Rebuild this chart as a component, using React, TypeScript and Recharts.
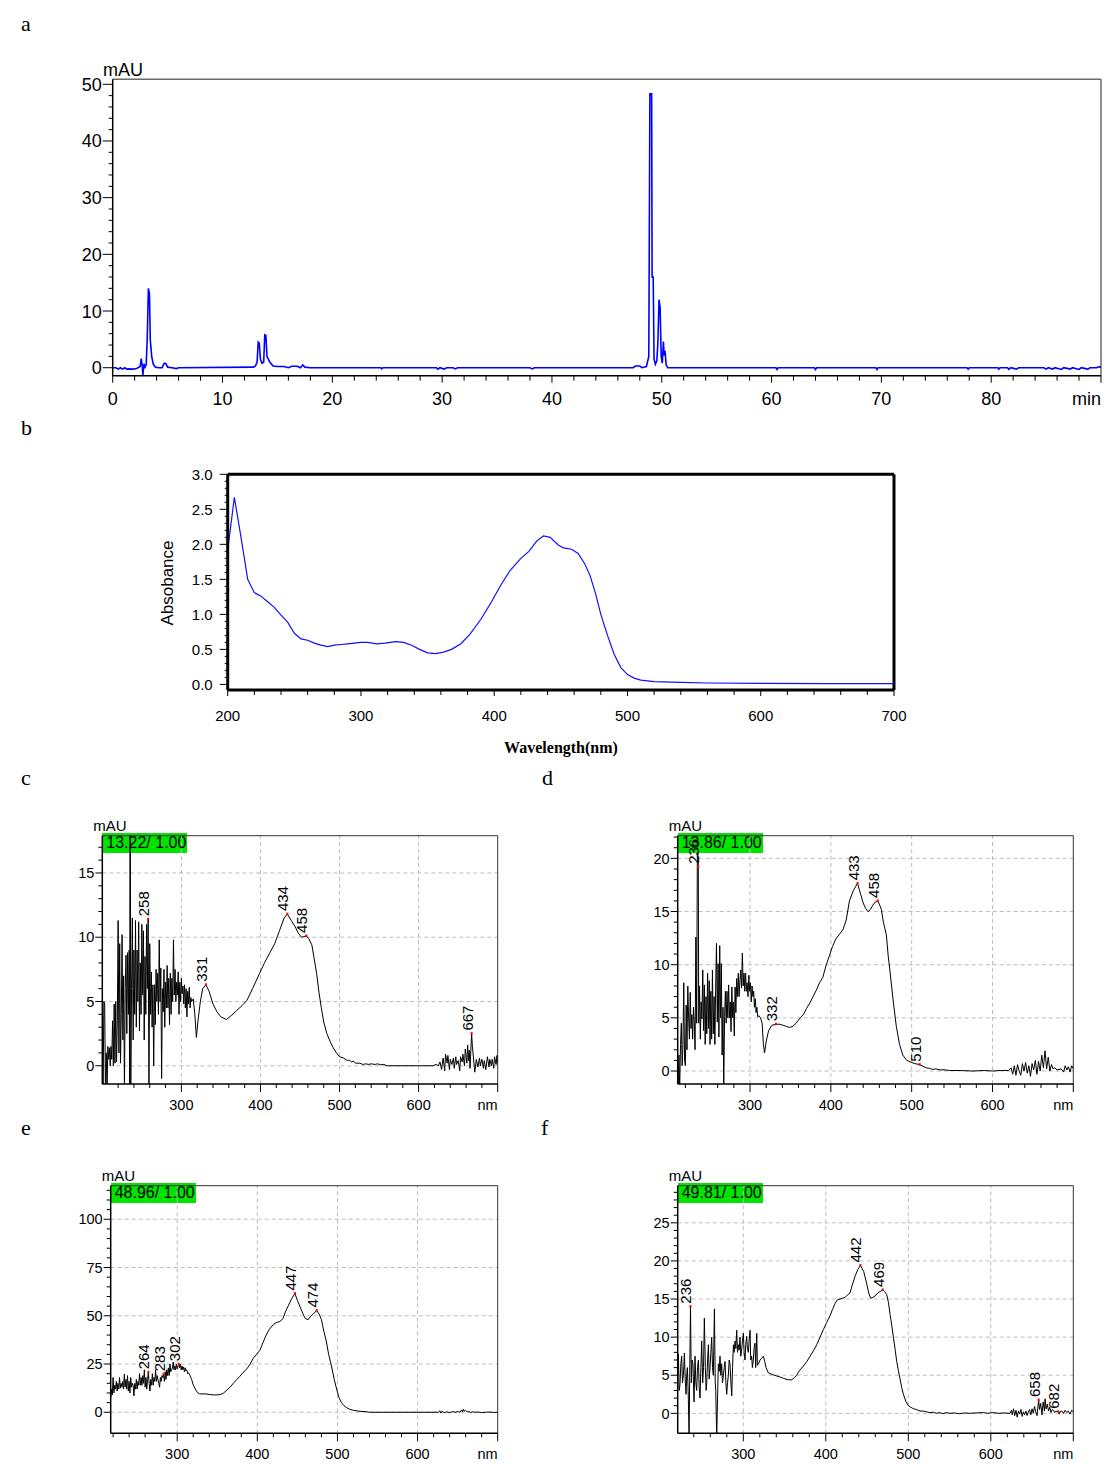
import React from "react";
import { LineChart, Line, XAxis, YAxis, ReferenceLine, ReferenceDot } from "recharts";

type Pt = [number, number];

const SANS = "'Liberation Sans', Arial, Helvetica, sans-serif";
const SERIF = "'Liberation Serif', 'Times New Roman', serif";

// ---- a: HPLC chromatogram (time in min, mAU) ----
const chromTrace: Pt[] = [
  [0, 0], [0.3, 0], [0.5, -0.25], [0.7, 0], [0.9, -0.25], [1.1, 0], [1.3, -0.25], [1.5, -0.2], [1.8, -0.25], [2.1, -0.2],
  [2.3, 0], [2.5, 0.2], [2.6, 1.6], [2.68, 0.5], [2.75, -1.3], [2.85, 0.7], [2.95, 0.1], [3.05, 0.5], [3.15, 5.5],
  [3.25, 14], [3.35, 13], [3.42, 5], [3.55, 2], [3.7, 0.6], [3.9, 0.1], [4.2, 0], [4.5, 0], [4.7, 0.8], [4.85, 0.7],
  [5.0, 0.1], [5.4, 0], [5.8, -0.15], [6, 0], [12.8, 0.1], [13.0, 0.3], [13.15, 1.0], [13.25, 4.5], [13.35, 4.3],
  [13.45, 1.5], [13.6, 0.8], [13.75, 1.0], [13.85, 5.8], [13.95, 5.7], [14.05, 2.0], [14.3, 1.0], [14.6, 0.3],
  [15, 0.2], [15.6, 0.2], [16, 0], [16.3, 0.25], [16.8, 0.25], [17.1, 0], [17.3, 0.5], [17.5, 0.1], [18, 0],
  [24.4, 0], [24.5, -0.2], [24.6, 0], [29.5, 0], [29.6, -0.25], [29.8, 0], [30.2, -0.25], [30.4, 0], [31, 0],
  [31.2, -0.2], [31.4, 0], [38, 0], [38.2, -0.2], [38.4, 0], [47.4, 0], [47.6, 0.3], [48, 0.3], [48.2, 0],
  [48.6, 0.2], [48.82, 2], [48.92, 48.3], [49.08, 48.3], [49.12, 16], [49.22, 16], [49.3, 1.5], [49.42, 0.6],
  [49.55, 1.2], [49.65, 4.5], [49.75, 12], [49.85, 10.6], [49.95, 2], [50.05, 0.8], [50.15, 4.6], [50.22, 2.2],
  [50.3, 3.0], [50.4, 0.5], [50.55, 0], [60.4, 0], [60.5, -0.3], [60.6, 0], [63.9, 0], [64.0, -0.3], [64.1, 0],
  [69.5, 0], [69.6, -0.3], [69.7, 0], [77.8, 0], [77.9, -0.25], [78.0, 0], [80.6, 0], [80.7, -0.25], [80.8, 0],
  [81.5, 0], [81.6, -0.3], [81.8, 0], [82.3, -0.25], [82.5, 0], [84.8, 0], [85, -0.25], [85.2, 0], [85.6, -0.25],
  [85.8, 0], [86.4, -0.3], [86.6, 0], [87.2, -0.25], [87.4, 0], [88, -0.3], [88.2, 0], [88.8, -0.25], [89, 0],
  [89.6, 0], [89.8, 0.15], [90, 0.1],
];
const chromYLabels = [0, 10, 20, 30, 40, 50];
const chromXLabels = [0, 10, 20, 30, 40, 50, 60, 70, 80, 90];

// ---- b: absorbance spectrum ----
const absSpectrum: Pt[] = [
  [200, 1.92], [205, 2.67], [210, 2.1], [215, 1.5], [220, 1.31], [225, 1.26], [230, 1.18], [235, 1.1], [240, 0.99],
  [245, 0.89], [250, 0.73], [255, 0.65], [260, 0.63], [265, 0.59], [270, 0.56], [275, 0.54], [280, 0.56], [285, 0.57],
  [290, 0.58], [295, 0.59], [300, 0.6], [305, 0.6], [312, 0.58], [318, 0.59], [326, 0.61], [332, 0.6], [338, 0.56],
  [344, 0.5], [350, 0.45], [356, 0.44], [362, 0.46], [368, 0.5], [375, 0.58], [382, 0.72], [390, 0.93], [398, 1.18],
  [405, 1.42], [412, 1.63], [420, 1.8], [426, 1.9], [432, 2.05], [437, 2.12], [442, 2.1], [448, 1.99], [452, 1.95],
  [458, 1.93], [463, 1.87], [468, 1.72], [472, 1.55], [476, 1.3], [480, 1.0], [485, 0.7], [490, 0.43], [495, 0.24],
  [500, 0.14], [505, 0.09], [510, 0.06], [520, 0.04], [540, 0.03], [560, 0.02], [600, 0.015], [650, 0.01], [700, 0.01],
];
const absYLabels = [0, 0.5, 1.0, 1.5, 2.0, 2.5, 3.0];
const absXLabels = [200, 300, 400, 500, 600, 700];

// ---- c: spectrum at 13.22 min ----
const spec1322: Pt[] = [
  [200, 3], [201, -2], [202, 5], [203, 4.8], [204, -2], [205, 1], [206, -2], [207, 1.5], [208, 0.5], [209, 1.4],
  [210, 0], [211, 1.5], [212, 0.5], [213, 3.5], [214, 0], [215, 4.8], [216, 0.2], [217, 5], [218, 0.3], [219, 3.5],
  [220, 11.3], [221, 1], [222, 9.5], [223, 0.2], [224, 4], [225, 10.2], [226, 2], [227, 7], [228, -2], [229, 6],
  [230, 8.6], [231, 2.5], [232, 8.8], [233, 4], [234, 9], [234.5, -2], [235, 19], [235.5, 19], [236, -2], [237, 6],
  [238, 11.5], [239, 2], [240, 9], [241, 4], [242, 11.3], [243, 3], [244, 9], [245, 5], [246, 11.2], [247, 2.7],
  [248, 8], [249, 4], [250, 11], [251, 5.5], [252, 10.5], [253, 2], [254, 8.5], [255, 4], [256, 11], [257, 6],
  [258, 11.4], [259, -2], [260, 9.5], [261, 4], [262, 7.3], [263, 3], [264, 6.3], [265, 0], [266, 6.3], [267, 3.2],
  [268, 7.5], [269, 5], [270, 7.2], [271, 4], [272, 9.8], [273, 5], [274, 7.6], [275, -1], [276, 6], [277, 4.2],
  [278, 7.5], [279, 3], [280, 6.5], [281, 4.5], [282, 7.8], [283, 4.5], [284, 6.8], [285, 3.2], [286, 7.2], [287, 4],
  [288, 6.8], [289, 5], [290, 9.8], [291, 5.5], [292, 7.5], [293, 5], [294, 6.5], [295, 5.5], [296, 7.3], [297, 4],
  [298, 6.5], [299, 5], [300, 6.8], [301, 5.6], [302, 6.2], [303, 4.8], [304, 6.3], [305, 4.5], [306, 6.0],
  [307, 3.8], [308, 5.8], [309, 4.8], [310, 6.1], [311, 4.5], [312, 5.3], [313, 5.0], [315, 5.2], [317, 4.0],
  [319, 2.2], [321, 3.5], [324, 5.0], [327, 6.0], [331, 6.3], [335, 5.8], [340, 4.8], [345, 4.2], [350, 3.8],
  [357, 3.6], [363, 3.9], [370, 4.3], [377, 4.7], [383, 5.1], [390, 6.0], [399, 7.2], [405, 8.0], [412, 8.8],
  [418, 9.5], [424, 10.5], [430, 11.5], [434, 11.8], [439, 11.3], [444, 10.8], [448, 10.3], [452, 10.0], [458, 10.1],
  [461, 9.9], [465, 9.4], [468, 8.3], [471, 7.2], [474, 5.7], [477, 4.5], [480, 3.4], [484, 2.5], [488, 1.9],
  [492, 1.4], [496, 1.0], [500, 0.7], [505, 0.6], [510, 0.4], [512, 0.45], [515, 0.3], [518, 0.35], [520, 0.2],
  [525, 0.2], [530, 0.1], [533, 0.15], [537, 0.1], [540, 0.15], [545, 0.1], [548, 0.15], [552, 0.08], [556, 0.1],
  [560, 0.0], [618, 0.0], [622, 0.1], [625, 0.0], [627, 0.3], [629, -0.3], [631, 0.6], [633, -0.4], [634, 0.9],
  [636, 0.2], [637, 0.8], [639, -0.3], [640, 0.5], [642, 0.1], [644, 0.6], [645, -0.2], [647, 0.7], [648, 0.1],
  [650, 0.4], [652, -0.4], [653, 0.7], [655, 0.3], [656, 0.9], [658, 0.0], [659, 1.3], [661, 0.2], [662, 1.6],
  [663, 0.4], [664, 1.2], [665, -0.2], [667, 2.5], [668, 1.5], [670, 0.2], [671, -0.5], [673, 0.5], [675, -0.1],
  [677, 0.6], [678, 0.0], [680, 0.5], [682, -0.2], [683, 0.4], [685, -0.3], [687, 0.7], [689, -0.1], [690, 0.5],
  [692, 0.0], [693, 0.5], [695, -0.2], [696, 0.7], [698, 0.1], [699, 0.8], [700, 0.2],
];
const peaks1322: Pt[] = [[258, 11.4], [331, 6.3], [434, 11.8], [458, 10.1], [667, 2.5]];

// ---- d: spectrum at 13.86 min ----
const spec1386: Pt[] = [
  [210.5, 0], [211, -1.5], [212, 1.5], [213, -1.5], [214, 2.5], [215, 4.5], [216, 0.5], [217, 2.5], [218, 8.3],
  [219, 1], [220, 0.5], [221, 6.2], [222, 2], [223, 8.0], [224, 5], [225, 3], [226, 7.4], [227, 4], [228, 5.3],
  [229, 3], [230, 6], [231, 4.6], [232, 2], [233, 12.6], [234, 4.5], [234.8, 20.5], [235.5, 20.5], [236, 19.2],
  [236.5, 4.5], [237.5, 8], [238.5, 3], [239.5, 6.5], [240.5, 4.9], [241.5, 9.5], [242.5, 3.8], [243.5, 8.1],
  [244.5, 2.5], [245.5, 7], [246.5, 3.5], [247.5, 9.2], [248.5, 4], [249.5, 8.5], [250.5, 2.5], [251.5, 7.5],
  [252.5, 3], [253.5, 9.5], [254.5, 3.5], [255.5, 7], [256.5, 2.5], [257.5, 8], [258.5, 12], [259.5, 4.6],
  [260.5, 10.1], [261.5, 3.2], [262.5, 11.8], [263.5, 5], [264.5, 10.1], [265.5, 1.5], [266.5, 6], [267.5, -1.5],
  [268.5, 5.1], [269.5, 7.5], [270.5, 4.5], [271.5, 7.5], [272.5, 5], [273.5, 8.1], [274.5, 5], [275.5, 6.5],
  [276.5, 3.7], [277.5, 7.9], [278.5, 5], [279.5, 6.5], [280.5, 3.3], [281.5, 7.9], [282.5, 5.5], [283.5, 8.7],
  [284.5, 7], [285.5, 9.2], [286.5, 7], [287.5, 8.5], [288.5, 9.5], [289.5, 7.8], [290.5, 11.1], [291.5, 8],
  [292.5, 9.2], [293.5, 7.5], [294.5, 9.2], [295.5, 7.5], [296.5, 8.3], [297.5, 7], [298.5, 9], [299.5, 7.5],
  [300.5, 8.3], [301.5, 6.5], [302.5, 8], [303.5, 7], [304.5, 7.5], [305.5, 6], [306.5, 6.8], [307.5, 5.5],
  [308.5, 6], [309.5, 5.1], [311, 5.2], [313, 5.0], [315, 4.5], [316.5, 2.5], [318, 1.7], [320, 2.8], [323, 3.8],
  [327, 4.3], [332, 4.4], [337, 4.4], [341, 4.3], [345, 4.2], [349, 4.1], [353, 4.2], [357, 4.5], [362, 5.0],
  [366, 5.3], [370, 5.9], [374, 6.4], [378, 7.0], [382, 7.6], [386, 8.3], [390, 8.8], [394, 9.9], [398, 10.8],
  [402, 11.7], [406, 12.4], [411, 12.9], [415, 13.3], [419, 14.2], [423, 16.0], [428, 17.0], [433, 17.65],
  [437, 16.6], [440, 15.8], [443, 15.3], [446, 15.0], [449, 15.2], [452, 15.6], [455, 15.9], [458, 16.0],
  [460, 15.7], [462.5, 15.2], [465, 14.0], [468.7, 12.8], [471, 10.8], [473, 9.5], [477, 6.7], [481, 4.2],
  [485, 2.5], [489, 1.5], [494, 1.0], [500, 0.8], [504, 0.7], [510, 0.6], [514, 0.45], [518, 0.3], [522, 0.25],
  [526, 0.15], [530, 0.2], [535, 0.1], [540, 0.12], [547, 0.05], [560, 0.05], [575, 0.0], [590, 0.05], [600, 0.0],
  [610, 0.05], [620, 0.05], [623, 0.3], [625, -0.3], [627, 0.5], [629, -0.4], [631, 0.6], [633, 0.0], [635, -0.4],
  [637, 0.7], [639, 0.0], [641, 0.8], [643, -0.2], [645, 0.5], [647, -0.5], [649, 0.7], [651, 0.1], [653, 1.0],
  [655, -0.3], [657, 0.9], [659, 0.0], [661, 1.5], [663, 0.3], [665, 1.9], [667, 0.2], [669, 1.3], [671, 0.0],
  [673, 0.6], [675, 0.2], [677, 0.3], [680, 0.1], [685, 0.2], [688, -0.1], [690, 0.5], [692, 0.1], [694, 0.4],
  [696, -0.1], [698, 0.5], [700, 0.2],
];
const peaks1386: Pt[] = [[236, 19.2], [332, 4.4], [433, 17.65], [458, 16.0], [510, 0.6]];

// ---- e: spectrum at 48.96 min ----
const spec4896: Pt[] = [
  [217, 7.3], [218, 12], [219, 9], [220, 18], [221, 10], [222, 14], [223, 12], [224, 16], [225, 11], [226, 15],
  [227, 12], [228, 18], [229, 12.5], [230, 15], [231, 13], [232, 16], [233, 12], [234, 19.7], [235, 13], [236, 17],
  [237, 12], [238, 19], [239, 11], [240, 16], [241, 10], [242, 18], [243, 13], [244, 15], [245, 14], [246, 8.5],
  [247, 15], [248, 12], [249, 17], [250, 12], [251, 16], [252, 14], [253, 20], [254, 14], [255, 18], [256, 14],
  [257, 19], [258, 15], [259, 22], [260, 13], [261, 18], [262, 12], [263, 17], [264, 20.7], [265, 15], [266, 11],
  [267, 17], [268, 14], [269, 20], [270, 14], [271, 18], [272, 16], [273, 22], [274, 16], [275, 19], [276, 17],
  [277, 15], [278, 13], [279, 18], [280, 16], [281, 19], [282, 18], [283, 19.7], [284, 16], [285, 21], [286, 17],
  [287, 22], [288, 19], [289, 23], [290, 19], [291, 25], [292, 21], [293, 22], [294, 23], [295, 26], [296, 22],
  [297, 24], [298, 22], [299, 25], [300, 22.5], [301, 24], [302, 24.9], [303, 23], [304, 25], [305, 22], [306, 24],
  [307, 22], [308, 23.5], [309, 21], [310, 23], [311, 21.5], [312, 22], [313, 20], [314, 20.5], [316, 19],
  [318, 17], [320, 14.2], [322, 12.5], [324, 11], [326, 10], [328, 9.5], [332, 9.5], [336, 9.5], [340, 9.2],
  [345, 9.0], [350, 9.0], [354, 9.2], [358, 10], [362, 11.5], [366, 13], [370, 15], [374, 16.8], [378, 18.5],
  [382, 20.5], [387, 22.5], [391, 25], [395, 28], [399, 30], [403, 32], [407, 36], [411, 40], [415, 43], [420, 45.5],
  [424, 46.5], [428, 47], [432, 48.5], [435, 52], [439, 55.5], [443, 59], [447, 61.5], [450, 58], [453, 55],
  [457, 51], [460, 48.5], [463.5, 48], [466, 49.5], [470, 51], [474, 52.7], [477, 51], [480, 48], [483, 42],
  [486, 37], [489, 30], [492.5, 24], [496, 17], [499, 12], [502, 7.5], [505, 5], [508, 3.5], [511, 2.5], [515, 1.6],
  [520, 1.0], [528, 0.5], [536, 0.3], [540, 0.0], [626, 0], [628, 0.8], [629, -0.4], [631, 0.6], [633, -0.3],
  [636, 0.2], [640, -0.2], [644, 0.3], [647, 0.0], [650, 0.4], [653, 0], [655, 1.2], [656, 0.2], [657, 1.5],
  [658, 0.5], [660, 1.0], [662, 0.2], [664, 0.6], [666, -0.3], [668, 0.2], [672, 0], [676, 0.1], [680, -0.2],
  [685, 0.0], [690, 0.1], [695, -0.1], [700, 0.0],
];
const peaks4896: Pt[] = [[264, 20.7], [283, 19.7], [302, 24.9], [447, 61.5], [474, 52.7]];

// ---- f: spectrum at 49.81 min ----
const spec4981: Pt[] = [
  [220.5, 5], [221.3, 7.8], [222.3, 3], [223.3, 3.8], [224.3, 6.5], [225.3, 7.5], [226.3, 4], [227.4, 5],
  [228.6, 7.9], [229.6, 4.5], [230.6, 2.5], [231.4, 5], [232.2, 6], [233, 3.5], [233.4, 2], [234.3, -3],
  [235.2, 6.5], [236, 14], [237, 4], [238, 7], [239, 6.5], [240.3, 1.5], [241.5, 7.5], [242.5, 4], [243.5, 3],
  [244.5, 6], [245.6, 7], [246.5, 3.5], [247.6, 2], [248.6, 6], [249.6, 9.5], [250.8, 4], [251.8, 6], [252.8, 12.5],
  [254, 6], [255, 3], [255.7, 4], [256.7, 7], [257.7, 9], [258.7, 4.5], [259.7, 6], [260.7, 8], [261.7, 10],
  [262.7, 6], [263.7, 5], [265, 13.7], [266, 4], [266.6, 3], [267.8, -3], [268.8, 2], [269.8, 6.5], [270.8, 5.5],
  [271.8, 7.5], [272.8, 5], [273.8, 6.5], [274.8, 4], [275.9, 5], [276.9, 6], [277.9, 6.8], [278.9, 4],
  [279.9, 2.5], [280.9, 4], [281.9, 5], [282.9, 7], [283.9, 6.5], [285, 4], [286, 2.3], [287, 6], [288, 9],
  [289, 8], [290, 9.5], [291, 8.5], [292, 10.9], [293, 8], [294, 9], [295, 8.3], [296, 10], [297, 7.5],
  [298.1, 8.5], [299, 9.5], [300.1, 10.5], [301, 8], [302.1, 7], [303, 9], [304.1, 10.1], [305, 8.5], [306.2, 8],
  [307, 9.5], [308.2, 10.9], [309, 7], [310.2, 7.5], [311, 6], [312.2, 7], [313, 8.5], [314.2, 9.2], [315, 6],
  [316.3, 10.5], [317.1, 6.3], [318.5, 6.5], [320.3, 7], [322, 7.2], [324.3, 7.5], [326, 6.8], [327.6, 6],
  [330.4, 5.3], [335, 5.1], [340.5, 4.9], [344, 4.8], [348.6, 4.6], [354, 4.4], [358.7, 4.4], [362, 4.7],
  [364.7, 5], [368, 5.6], [372.8, 6.2], [377, 6.8], [380.9, 7.5], [385, 8.2], [389, 9], [393, 10], [397.1, 11],
  [401, 11.9], [405.1, 12.8], [408, 13.6], [411.2, 14.4], [414, 14.9], [417.3, 15], [420, 15.1], [423.3, 15.2],
  [426, 15.5], [429.4, 15.8], [432, 16.8], [435.5, 18], [439, 18.9], [442, 19.4], [446, 18.6], [449.6, 17],
  [452, 15.8], [454.4, 15.1], [457, 15.2], [459.7, 15.4], [463, 15.8], [469, 16.2], [471, 16], [473.8, 15.6],
  [476, 14.5], [477.9, 13], [480, 11.5], [481.9, 10], [484, 8.4], [486, 6.8], [488, 5.6], [490, 4.5], [492, 3.4],
  [494, 2.5], [497, 1.6], [500.1, 1.0], [503, 0.8], [506.2, 0.6], [510, 0.5], [514, 0.3], [518.3, 0.3], [522, 0.2],
  [526, 0.1], [530.4, 0.15], [534, 0.0], [538, 0.1], [542, -0.05], [546, 0.1], [550.6, 0.0], [556, 0.05],
  [562, -0.05], [568, 0.05], [575, 0.0], [582, 0.05], [591, 0.1], [596, 0.0], [602, 0.1], [610, 0.0], [616, 0.05],
  [623.3, 0.0], [625, 0.4], [626, -0.2], [627.5, 0.6], [629, -0.3], [630.5, 0.4], [632, -0.5], [633.5, 0.3],
  [635, -0.1], [636.5, 0.5], [638, -0.4], [639.5, 0.2], [641, -0.2], [642.5, 0.3], [644, -0.3], [645.5, 0.2],
  [647, 0.5], [648.5, -0.2], [650, 0.6], [651.5, 0.0], [653, 0.9], [654.5, 0.2], [656, -0.3], [658, 1.75],
  [659, 0.5], [660.5, 1.3], [662, -0.2], [663.5, 1.5], [665, 0.3], [665.8, 1.9], [667, 0.6], [668.5, 1.2],
  [670, 0.3], [671.5, 0.8], [673, 0.1], [674.5, 0.5], [676, 0.4], [677.5, 0.1], [679, 0.3], [682, 0.2],
  [683, -0.1], [684, 0.2], [686, 0.3], [688, 0.0], [690, 0.4], [692, 0.1], [694, 0.3], [696, -0.1], [698, 0.4],
  [700, 0.2],
];
const peaks4981: Pt[] = [[236, 14], [442, 19.4], [469, 16.2], [658, 1.75], [682, 0.2]];

const specXLabels = [300, 400, 500, 600, 700];

// ---- layout helpers ----
const YW = 50;
const XH = 30;
type Box = { x: number; y: number; w: number; h: number };
type Plot = { x0: number; y0: number; x1: number; y1: number };

const frameMargin = (box: Box, plot: Plot) => ({
  left: plot.x0 - box.x - YW,
  right: box.x + box.w - plot.x1,
  top: plot.y0 - box.y,
  bottom: box.y + box.h - plot.y1 - XH,
});

const range = (a: number, b: number, s: number) => {
  const out: number[] = [];
  for (let v = a; v <= b + 1e-9; v += s) out.push(Math.round(v * 1000) / 1000);
  return out;
};

const isIn = (list: number[], v: number) => list.some((m) => Math.abs(m - v) < 1e-6);

type TickCfg = {
  labels: number[];
  majorLen: number;
  minorLen: number;
  fontSize: number;
  gap: number;
  fmt: (v: number) => string;
  lastEnd?: number;
};

const makeYTick = (c: TickCfg) => (props: any) => {
  const { x, y, payload } = props;
  const v = payload.value;
  const major = isIn(c.labels, v);
  const len = major ? c.majorLen : c.minorLen;
  return (
    <g>
      <line x1={x} x2={x - len} y1={y} y2={y} stroke="#000" strokeWidth={1} />
      {major && (
        <text x={x - len - c.gap} y={y} dy="0.36em" textAnchor="end" fontSize={c.fontSize} fontFamily={SANS} fill="#000">
          {c.fmt(v)}
        </text>
      )}
    </g>
  );
};

const makeXTick = (c: TickCfg) => (props: any) => {
  const { x, y, payload } = props;
  const v = payload.value;
  const major = isIn(c.labels, v);
  const len = major ? c.majorLen : c.minorLen;
  const isLast = c.lastEnd !== undefined && Math.abs(v - c.lastEnd) < 1e-6;
  return (
    <g>
      <line x1={x} x2={x} y1={y} y2={y + len} stroke="#000" strokeWidth={1} />
      {major && (
        <text x={x} y={y + c.gap} textAnchor={isLast ? "end" : "middle"} fontSize={c.fontSize} fontFamily={SANS} fill="#000">
          {c.fmt(v)}
        </text>
      )}
    </g>
  );
};

const PeakMark = (props: any) => {
  const { cx, cy, label } = props;
  if (cx == null || cy == null) return null;
  return (
    <g>
      <rect x={cx - 1} y={cy - 1.5} width={2} height={2.5} fill="#ff0000" />
      <text
        transform={`translate(${cx + 1},${cy - 3}) rotate(-90)`}
        fontSize={15}
        fontFamily={SANS}
        fill="#000"
      >
        {label}
      </text>
    </g>
  );
};

const toXY = (pts: Pt[]) => pts.map(([x, y]) => ({ x, y }));

// ---- panel a ----
function ChromPanel() {
  const box: Box = { x: 0, y: 50, w: 1117, h: 370 };
  const plot: Plot = { x0: 112.7, y0: 79.3, x1: 1101, y1: 375.7 };
  const yDom: [number, number] = [-1.41, 50.88];
  return (
    <div style={{ position: "absolute", left: box.x, top: box.y }}>
      <LineChart width={box.w} height={box.h} margin={frameMargin(box, plot)}>
        <XAxis
          type="number"
          dataKey="x"
          domain={[0, 90]}
          allowDataOverflow
          ticks={range(0, 90, 2)}
          interval={0}
          height={XH}
          tickSize={0}
          tickMargin={0}
          tickLine={false}
          axisLine={{ stroke: "#000", strokeWidth: 1.5 }}
          tick={makeXTick({
            labels: chromXLabels,
            majorLen: 7,
            minorLen: 5,
            fontSize: 18,
            gap: 29,
            fmt: (v) => (v === 90 ? "min" : String(v)),
            lastEnd: 90,
          })}
        />
        <YAxis
          type="number"
          domain={yDom}
          allowDataOverflow
          ticks={range(0, 50, 2)}
          interval={0}
          width={YW}
          tickSize={0}
          tickMargin={0}
          tickLine={false}
          axisLine={{ stroke: "#000", strokeWidth: 1.5 }}
          tick={makeYTick({ labels: chromYLabels, majorLen: 10, minorLen: 4, fontSize: 18, gap: 1, fmt: String })}
        />
        <ReferenceLine y={yDom[1]} stroke="#6a6a6a" strokeWidth={1.5} />
        <ReferenceLine x={90} stroke="#6a6a6a" strokeWidth={1.5} />
        <Line
          data={toXY(chromTrace)}
          dataKey="y"
          type="linear"
          stroke="#0000ff"
          strokeWidth={1.6}
          dot={false}
          activeDot={false}
          isAnimationActive={false}
        />
      </LineChart>
    </div>
  );
}

// ---- panel b ----
function AbsPanel() {
  const box: Box = { x: 100, y: 460, w: 900, h: 280 };
  const plot: Plot = { x0: 227.7, y0: 474.3, x1: 894, y1: 690 };
  const yDom: [number, number] = [-0.08, 3.0];
  return (
    <div style={{ position: "absolute", left: box.x, top: box.y }}>
      <LineChart width={box.w} height={box.h} margin={frameMargin(box, plot)}>
        <XAxis
          type="number"
          dataKey="x"
          domain={[200, 700]}
          allowDataOverflow
          ticks={range(200, 700, 20)}
          interval={0}
          height={XH}
          tickSize={0}
          tickMargin={0}
          tickLine={false}
          axisLine={{ stroke: "#000", strokeWidth: 3 }}
          tick={makeXTick({ labels: absXLabels, majorLen: 6, minorLen: 5, fontSize: 15, gap: 31, fmt: String })}
        />
        <YAxis
          type="number"
          domain={yDom}
          allowDataOverflow
          ticks={range(0, 3, 0.1)}
          interval={0}
          width={YW}
          tickSize={0}
          tickMargin={0}
          tickLine={false}
          axisLine={{ stroke: "#000", strokeWidth: 3 }}
          tick={makeYTick({
            labels: absYLabels,
            majorLen: 8,
            minorLen: 3,
            fontSize: 15,
            gap: 7,
            fmt: (v) => v.toFixed(1),
          })}
        />
        <ReferenceLine y={3.0} stroke="#000" strokeWidth={3} />
        <ReferenceLine x={700} stroke="#000" strokeWidth={3} />
        <Line
          data={toXY(absSpectrum)}
          dataKey="y"
          type="linear"
          stroke="#1010ff"
          strokeWidth={1.2}
          dot={false}
          activeDot={false}
          isAnimationActive={false}
        />
      </LineChart>
    </div>
  );
}

// ---- panels c-f ----
type SpecProps = {
  box: Box;
  plot: Plot;
  xDom: [number, number];
  yDom: [number, number];
  data: Pt[];
  peaks: Pt[];
  yLabels: number[];
  yMinorStep: number;
  xMinorStart: number;
  stamp: string;
};

function SpecPanel(p: SpecProps) {
  const yTop = p.yLabels[p.yLabels.length - 1];
  const yTicks = range(0, Math.floor(p.yDom[1] / p.yMinorStep) * p.yMinorStep, p.yMinorStep);
  const grid = "#bdbdbd";
  return (
    <>
      <div
        style={{
          position: "absolute",
          left: p.plot.x0,
          top: p.plot.y0 - 2.7,
          width: 85,
          height: 20,
          background: "#00e400",
          fontFamily: SANS,
          fontSize: 16,
          lineHeight: "20px",
          paddingLeft: 4,
          boxSizing: "border-box",
          color: "#000",
          whiteSpace: "nowrap",
        }}
      >
        {p.stamp}
      </div>
      <div
        style={{
          position: "absolute",
          left: p.plot.x0 - 9,
          top: p.plot.y0 - 18,
          fontFamily: SANS,
          fontSize: 15,
          lineHeight: "16px",
          color: "#000",
        }}
      >
        mAU
      </div>
      <div style={{ position: "absolute", left: p.box.x, top: p.box.y }}>
        <LineChart width={p.box.w} height={p.box.h} margin={frameMargin(p.box, p.plot)}>
          <XAxis
            type="number"
            dataKey="x"
            domain={p.xDom}
            allowDataOverflow
            ticks={range(p.xMinorStart, 700, 20)}
            interval={0}
            height={XH}
            tickSize={0}
            tickMargin={0}
            tickLine={false}
            axisLine={{ stroke: "#000", strokeWidth: 1.5 }}
            tick={makeXTick({
              labels: specXLabels,
              majorLen: 8,
              minorLen: 4,
              fontSize: 14.5,
              gap: 26,
              fmt: (v) => (v === 700 ? "nm" : String(v)),
              lastEnd: 700,
            })}
          />
          <YAxis
            type="number"
            domain={p.yDom}
            allowDataOverflow
            ticks={yTicks}
            interval={0}
            width={YW}
            tickSize={0}
            tickMargin={0}
            tickLine={false}
            axisLine={{ stroke: "#000", strokeWidth: 1.5 }}
            tick={makeYTick({ labels: p.yLabels, majorLen: 7, minorLen: 4, fontSize: 14.5, gap: 1, fmt: String })}
          />
          {specXLabels.slice(0, -1).map((v) => (
            <ReferenceLine key={"gx" + v} x={v} stroke={grid} strokeDasharray="4 3" />
          ))}
          {p.yLabels.map((v) => (
            <ReferenceLine key={"gy" + v} y={v} stroke={grid} strokeDasharray="4 3" />
          ))}
          <ReferenceLine y={p.yDom[1]} stroke="#333" strokeWidth={1} />
          <ReferenceLine x={700} stroke="#333" strokeWidth={1} />
          <Line
            data={toXY(p.data)}
            dataKey="y"
            type="linear"
            stroke="#000"
            strokeWidth={1}
            dot={false}
            activeDot={false}
            isAnimationActive={false}
          />
          {p.peaks.map(([x, y]) => (
            <ReferenceDot
              key={"pk" + x}
              x={x}
              y={y}
              r={1}
              shape={(sp: any) => <PeakMark {...sp} label={String(x)} />}
            />
          ))}
        </LineChart>
      </div>
      {yTop === undefined ? null : null}
    </>
  );
}

const letter = (t: string, x: number, y: number) => (
  <div
    style={{
      position: "absolute",
      left: x,
      top: y,
      fontFamily: SERIF,
      fontSize: 22,
      lineHeight: "22px",
      color: "#000",
    }}
  >
    {t}
  </div>
);

export default function App() {
  return (
    <div style={{ position: "absolute", left: 0, top: 0, width: 1117, height: 1468, background: "#fff", overflow: "hidden" }}>
      {letter("a", 21, 13)}
      {letter("b", 21, 417)}
      {letter("c", 21, 767)}
      {letter("d", 542, 767)}
      {letter("e", 21, 1117)}
      {letter("f", 541, 1117)}

      <div style={{ position: "absolute", left: 103, top: 60, fontFamily: SANS, fontSize: 18, lineHeight: "20px" }}>mAU</div>
      <ChromPanel />

      <AbsPanel />
      <div
        style={{
          position: "absolute",
          left: 168,
          top: 583,
          transform: "translate(-50%, -50%) rotate(-90deg)",
          fontFamily: SANS,
          fontSize: 17,
          whiteSpace: "nowrap",
        }}
      >
        Absobance
      </div>
      <div
        style={{
          position: "absolute",
          left: 561,
          top: 748,
          transform: "translate(-50%, -50%)",
          fontFamily: SERIF,
          fontWeight: "bold",
          fontSize: 16,
          whiteSpace: "nowrap",
        }}
      >
        Wavelength(nm)
      </div>

      <SpecPanel
        box={{ x: 20, y: 815, w: 500, h: 310 }}
        plot={{ x0: 102.3, y0: 835.7, x1: 497.7, y1: 1084 }}
        xDom={[200, 700]}
        yDom={[-1.42, 17.9]}
        data={spec1322}
        peaks={peaks1322}
        yLabels={[0, 5, 10, 15]}
        yMinorStep={1}
        xMinorStart={220}
        stamp="13.22/ 1.00"
      />
      <SpecPanel
        box={{ x: 590, y: 815, w: 510, h: 310 }}
        plot={{ x0: 677.7, y0: 835.7, x1: 1073.3, y1: 1084 }}
        xDom={[210.5, 700]}
        yDom={[-1.22, 22.13]}
        data={spec1386}
        peaks={peaks1386}
        yLabels={[0, 5, 10, 15, 20]}
        yMinorStep={1}
        xMinorStart={220}
        stamp="13.86/ 1.00"
      />
      <SpecPanel
        box={{ x: 20, y: 1165, w: 500, h: 300 }}
        plot={{ x0: 110.7, y0: 1185.7, x1: 497.7, y1: 1433.3 }}
        xDom={[217, 700]}
        yDom={[-10.9, 117.4]}
        data={spec4896}
        peaks={peaks4896}
        yLabels={[0, 25, 50, 75, 100]}
        yMinorStep={5}
        xMinorStart={220}
        stamp="48.96/ 1.00"
      />
      <SpecPanel
        box={{ x: 590, y: 1165, w: 510, h: 300 }}
        plot={{ x0: 677.7, y0: 1185.7, x1: 1073.3, y1: 1433.3 }}
        xDom={[220.5, 700]}
        yDom={[-2.62, 29.87]}
        data={spec4981}
        peaks={peaks4981}
        yLabels={[0, 5, 10, 15, 20, 25]}
        yMinorStep={1}
        xMinorStart={240}
        stamp="49.81/ 1.00"
      />
    </div>
  );
}
